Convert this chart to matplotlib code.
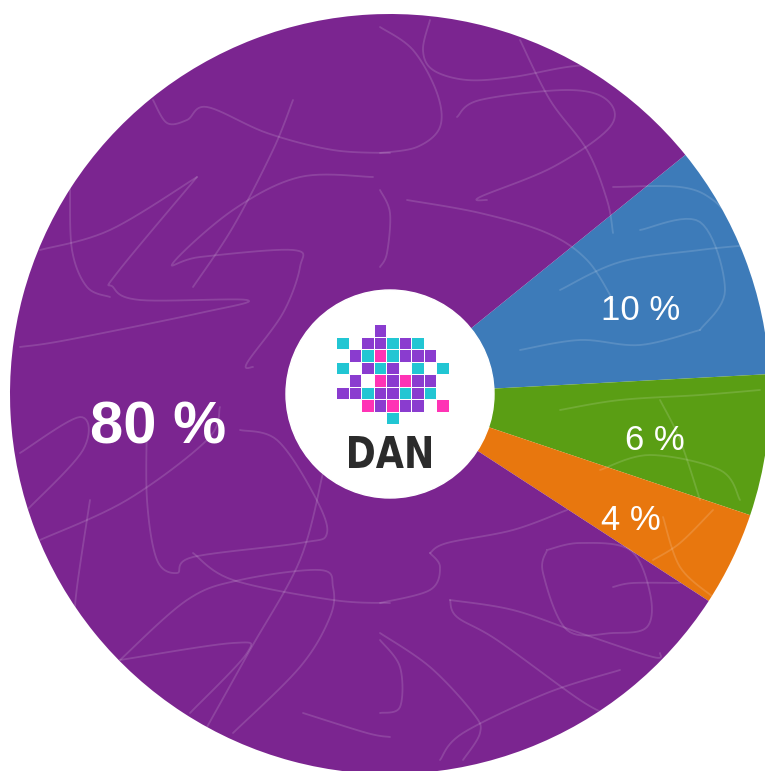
import matplotlib
matplotlib.use("Agg")
import matplotlib.pyplot as plt
import numpy as np
from matplotlib.patches import Circle, Rectangle, PathPatch
from matplotlib.textpath import TextPath
from matplotlib.font_manager import FontProperties
from matplotlib.transforms import Affine2D

# Data
categories = ["Blue", "Green", "Orange", "Purple"]
values = [10, 6, 4, 80]
labels = ["10 %", "6 %", "4 %", "80 %"]
colors = ["#3D7BB9", "#5A9E14", "#E8770E", "#7B2590"]

# Label styling
label_dist = [0.699, 0.707, 0.713, 0.615]
label_shift = [-1.9, -1.6, -1.4, 3.9]   # degrees from wedge middle
label_size = [25, 25, 25, 43]
label_weight = ["normal", "normal", "normal", "bold"]

W, H, DPI = 765, 771, 100
fig = plt.figure(figsize=(W / DPI, H / DPI), dpi=DPI)
ax = fig.add_axes([0, 0, 1, 1])
ax.axis("off")

cx, cy, R = 390, 394, 380  # pixel center and radius


def P(px, py):
    return (px - cx) / R, (cy - py) / R


wedges, _ = ax.pie(values, colors=colors, startangle=39, counterclock=False,
                   radius=1.0, wedgeprops=dict(linewidth=0))
ax.set_xlim(-cx / R, (W - cx) / R)
ax.set_ylim(-(H - cy) / R, cy / R)
ax.set_aspect("auto")

# decorative squiggle texture (pixel-space control points)
squiggles = [
    [(197, 177), (117, 273), (113, 287), (140, 300), (247, 300), (200, 313), (67, 340), (20, 347)],
    [(373, 177), (300, 177), (233, 210), (173, 263), (200, 257), (293, 250), (300, 267), (283, 313), (247, 363), (253, 367)],
    [(293, 100), (273, 150), (233, 227), (193, 287)],
    [(153, 100), (167, 123), (187, 120), (207, 107), (267, 133), (333, 150), (390, 153)],
    [(197, 177), (110, 230), (40, 250)],
    [(70, 187), (72, 250), (87, 287), (110, 297)],
    [(20, 453), (80, 417), (83, 450), (27, 510)],
    [(40, 540), (127, 500), (207, 440), (220, 407)],
    [(147, 417), (147, 500), (157, 560), (177, 573), (193, 557), (300, 543), (327, 533), (313, 493), (277, 440), (240, 430)],
    [(193, 553), (233, 580), (333, 600), (390, 603)],
    [(120, 660), (187, 600), (240, 580), (320, 570), (333, 587), (330, 617), (300, 667), (233, 733)],
    [(323, 473), (300, 560), (250, 650), (207, 727)],
    [(90, 500), (77, 587), (73, 633)],
    [(120, 660), (233, 643), (247, 653), (190, 713)],
    [(303, 713), (367, 733), (390, 737)],
    [(430, 20), (423, 50), (433, 70), (467, 80), (513, 77), (567, 67), (613, 63)],
    [(520, 40), (550, 100), (587, 150), (607, 200), (613, 233)],
    [(457, 117), (480, 100), (567, 90), (607, 100), (610, 127), (553, 167), (480, 197), (487, 200)],
    [(407, 200), (480, 213), (547, 233), (587, 260), (613, 300)],
    [(380, 27), (413, 50), (437, 93), (440, 127), (417, 147), (380, 153)],
    [(380, 190), (390, 213), (387, 253), (380, 267)],
    [(430, 553), (447, 543), (513, 530), (567, 510)],
    [(430, 553), (440, 567), (430, 590), (380, 603)],
    [(547, 550), (580, 543), (630, 550), (650, 593), (647, 627), (613, 633), (567, 630), (543, 573), (547, 550)],
    [(450, 600), (513, 610), (580, 633), (653, 657), (660, 653)],
    [(450, 600), (457, 617), (497, 640), (580, 700), (613, 717)],
    [(613, 587), (633, 583), (680, 583)],
    [(380, 640), (400, 667), (400, 707), (380, 713)],
    [(380, 633), (430, 667), (473, 713), (480, 733), (463, 760)],
    [(620, 670), (547, 693), (463, 733), (440, 760)],
    [(663, 517), (680, 567), (713, 597)],
    [(713, 510), (680, 543), (653, 560)],
    [(613, 187), (680, 187), (713, 200), (740, 230)],
    [(560, 290), (620, 262), (700, 250), (750, 245)],
    [(640, 230), (700, 222), (725, 290), (700, 330)],
    [(520, 350), (580, 340), (640, 345), (700, 330)],
    [(560, 410), (620, 400), (700, 395), (760, 390)],
    [(600, 470), (650, 455), (720, 470), (740, 500)],
    [(660, 400), (680, 440), (700, 500)],
]


def catmull(pts, n=12):
    pts = np.asarray(pts, float)
    p = np.vstack([pts[0], pts, pts[-1]])
    out = []
    t = np.linspace(0, 1, n, endpoint=False)
    for i in range(1, len(p) - 2):
        p0, p1, p2, p3 = p[i - 1], p[i], p[i + 1], p[i + 2]
        tt = t[:, None]
        seg = 0.5 * ((2 * p1) + (-p0 + p2) * tt + (2 * p0 - 5 * p1 + 4 * p2 - p3) * tt ** 2
                     + (-p0 + 3 * p1 - 3 * p2 + p3) * tt ** 3)
        out.append(seg)
    out.append(p[-2][None, :])
    return np.vstack(out)


clip_circle = Circle((0, 0), 1.0, transform=ax.transData)
for s in squiggles:
    c = catmull(s)
    xs = (c[:, 0] - cx) / R
    ys = (cy - c[:, 1]) / R
    ln, = ax.plot(xs, ys, color="white", alpha=0.14, lw=1.3, zorder=3,
                  solid_capstyle="round")
    ln.set_clip_path(clip_circle)

for w, lab, d, sh, s, wt in zip(wedges, labels, label_dist, label_shift, label_size, label_weight):
    ang = np.deg2rad((w.theta1 + w.theta2) / 2 + sh)
    x, y = d * np.cos(ang), d * np.sin(ang)
    cap_px = 0.716 * s * DPI / 72
    ax.text(x, y - cap_px / 2 / R, lab, color="white", fontsize=s,
            fontweight=wt, family="Liberation Sans", ha="center", va="baseline",
            zorder=4)

# Center logo
ax.add_patch(Circle((0, 0), 104 / R, color="white", zorder=5))

grid = [
    "...p.....",
    "c.ppcpc..",
    ".pcmcppp.",
    "c.pcp.c.c",
    ".p.mpmpp.",
    "ppcppcpc.",
    "..mpmpp.m",
    "....c....",
]
sq_cols = {"p": "#8A3CCF", "c": "#22C6D3", "m": "#FF33B5"}
step = 12.5
sq = 11.2
x0, y0 = 343, 331
for r, row in enumerate(grid):
    for c, ch in enumerate(row):
        if ch in sq_cols:
            xd, yd = P(x0 + c * step, y0 + r * step)
            ax.add_patch(Rectangle((xd - sq / 2 / R, yd - sq / 2 / R), sq / R, sq / R,
                                   color=sq_cols[ch], zorder=6, linewidth=0))

# "DAN" as condensed bold text path fitted to its box
tp = TextPath((0, 0), "DAN", size=10,
              prop=FontProperties(family="DejaVu Sans", weight="bold"))
bb = tp.get_extents()
x_left, x_right, y_top, y_bot = 349, 431, 436, 468
xl, yb = P(x_left, y_bot)
xr, yt = P(x_right, y_top)
tr = (Affine2D().translate(-bb.x0, -bb.y0)
      .scale((xr - xl) / bb.width, (yt - yb) / bb.height)
      .translate(xl, yb))
ax.add_patch(PathPatch(tr.transform_path(tp), color="#2B2B2B", lw=0, zorder=7))

fig.savefig("out.png", dpi=DPI)
